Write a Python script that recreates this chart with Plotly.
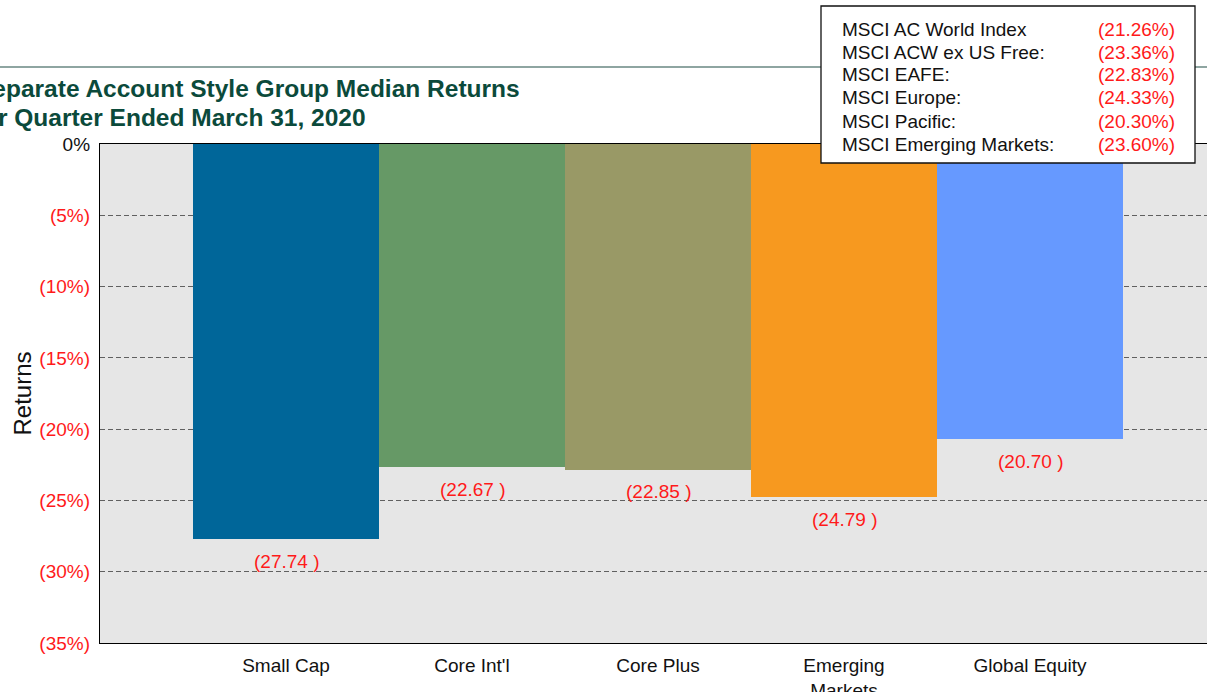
import plotly.graph_objects as go

# ---- data ----
categories = ["Small Cap", "Core Int'l", "Core Plus", "Emerging<br>Markets", "Global Equity"]
returns = [-27.74, -22.67, -22.85, -24.79, -20.70]
bar_colors = ["#006699", "#669966", "#999966", "#F7991F", "#6699FF"]

index_names = ["MSCI AC World Index", "MSCI ACW ex US Free:", "MSCI EAFE:",
               "MSCI Europe:", "MSCI Pacific:", "MSCI Emerging Markets:"]
index_returns = [-21.26, -23.36, -22.83, -24.33, -20.30, -23.60]

y_ticks = [0, -5, -10, -15, -20, -25, -30, -35]

title_line1 = "Separate Account Style Group Median Returns"
title_line2 = "For Quarter Ended March 31, 2020"

# ---- layout geometry ----
W, H = 1207, 692
L, T, B = 100, 144, 49
PW = W - L
PH = H - T - B
FONT = "Arial, Liberation Sans, Helvetica, sans-serif"
RED = "#FF1A1A"


def px(x):
    return (x - L) / PW


def py(y):
    return (H - B - y) / PH


def fmt_tick(v):
    if v == 0:
        return "0%"
    return f"<span style='color:{RED}'>({abs(v):.0f}%)</span>"


xs = list(range(len(categories)))

fig = go.Figure()
fig.add_trace(go.Bar(
    x=xs, y=returns, width=1.0,
    marker=dict(color=bar_colors, line=dict(width=0)),
    hoverinfo="skip", showlegend=False,
))

annotations = []
for xi, v in zip(xs, returns):
    annotations.append(dict(
        x=xi, y=v, xref="x", yref="y", text=f"({abs(v):.2f} )",
        showarrow=False, yshift=-22, yanchor="middle",
        font=dict(family=FONT, size=19, color=RED),
    ))

# title (clipped on the left as in the reference)
annotations.append(dict(
    x=px(522), y=py(88), xref="paper", yref="paper", xanchor="right", yanchor="middle",
    text=f"<b>{title_line1}</b>", showarrow=False,
    font=dict(family=FONT, size=24.5, color="#0B4A3B"),
))
annotations.append(dict(
    x=px(368), y=py(117), xref="paper", yref="paper", xanchor="right", yanchor="middle",
    text=f"<b>{title_line2}</b>", showarrow=False,
    font=dict(family=FONT, size=24.5, color="#0B4A3B"),
))

# index box text
row_y0, row_dy = 29, 23
for i, (name, val) in enumerate(zip(index_names, index_returns)):
    yy = py(row_y0 + i * row_dy)
    annotations.append(dict(
        x=px(840), y=yy, xref="paper", yref="paper", xanchor="left", yanchor="middle",
        text=name, showarrow=False, font=dict(family=FONT, size=19, color="#111111"),
    ))
    annotations.append(dict(
        x=px(1177), y=yy, xref="paper", yref="paper", xanchor="right", yanchor="middle",
        text=f"({abs(val):.2f}%)", showarrow=False, font=dict(family=FONT, size=19, color=RED),
    ))

shapes = [
    dict(type="line", xref="paper", yref="paper", x0=px(0), x1=px(W), y0=py(67), y1=py(67),
         line=dict(color="#1E4D45", width=1.2)),
    dict(type="rect", xref="paper", yref="paper", x0=px(821), x1=px(1195), y0=py(6), y1=py(163),
         fillcolor="white", line=dict(color="#111111", width=1.3)),
]

fig.update_layout(
    width=W, height=H,
    margin=dict(l=L, r=0, t=T, b=B, pad=0),
    paper_bgcolor="white", plot_bgcolor="#E6E6E6",
    bargap=0,
    font=dict(family=FONT, size=19, color="#111111"),
    annotations=annotations, shapes=shapes,
    xaxis=dict(
        range=[-1, -1 + PW / 186.0], automargin=False,
        tickvals=xs, ticktext=categories, ticks="", showgrid=False, zeroline=False,
        showline=True, linecolor="black", linewidth=1.3, mirror=True,
        tickfont=dict(family=FONT, size=19, color="#111111"),
        ticklabelstandoff=5,
    ),
    yaxis=dict(
        range=[-35, 0], automargin=False,
        tickvals=y_ticks, ticktext=[fmt_tick(v) for v in y_ticks],
        ticks="", showgrid=True, gridcolor="#606060", gridwidth=1, griddash="5px,3px",
        zeroline=False, showline=True, linecolor="black", linewidth=1.3,
        tickfont=dict(family=FONT, size=19, color="#111111"),
        ticklabelstandoff=5,
        title=dict(text="Returns", font=dict(family=FONT, size=24, color="#111111"), standoff=0),
    ),
)

fig.write_html(
    "out.html",
    config={"displayModeBar": False},
    post_script="document.body.style.margin='0';document.body.style.overflow='hidden';",
)
